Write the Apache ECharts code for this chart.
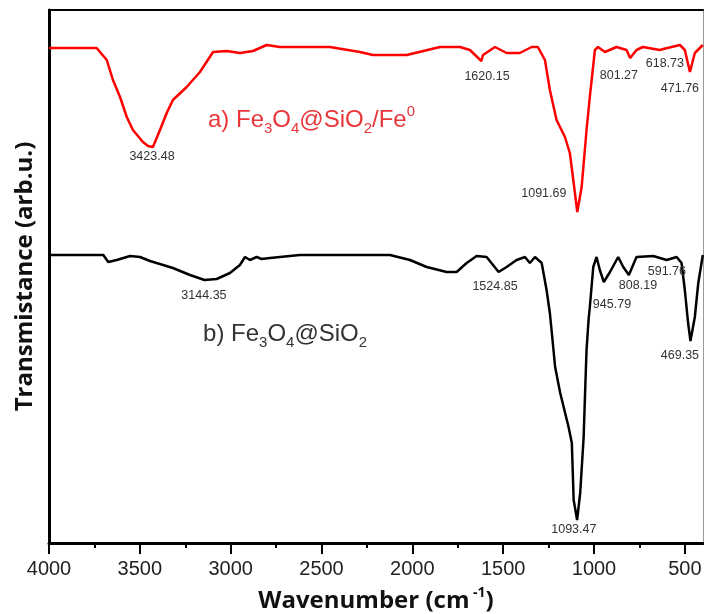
<!DOCTYPE html>
<html>
<head>
<meta charset="utf-8">
<title>FTIR spectra</title>
<script src="https://cdn.jsdelivr.net/npm/echarts@6/dist/echarts.min.js"></script>
<style>
    html, body { margin: 0; padding: 0; background: #fff; }
    #chart { width: 704px; height: 614px; }
</style>
</head>
<body>
<div id="chart"></div>
<script>
// a) Fe3O4@SiO2/Fe0 - wavenumber (cm-1) and transmittance (arb.u.)
var WAVE_A = [4000, 3738, 3682, 3648, 3609, 3572, 3538, 3483, 3455, 3428, 3389, 3352, 3318, 3242, 3169, 3097,
    3022, 2949, 2877, 2802, 2729, 2454, 2288, 2217, 2031, 1848, 1738, 1683, 1620, 1611, 1545, 1481, 1408, 1343,
    1309, 1270, 1243, 1206, 1160, 1133, 1116, 1092, 1068, 1041, 1023, 995, 978, 940, 876, 821, 801, 766, 731,
    637, 619, 527, 500, 472, 445, 401];
var TRANS_A = [495, 495, 483, 463, 446, 426, 413, 401, 397, 396, 413, 430, 443, 456, 471, 491,
    492, 490, 492, 498, 496, 496, 491, 488, 488, 496, 496, 493, 482, 488, 496, 490, 490, 496,
    496, 483, 453, 423, 406, 390, 366, 331, 356, 413, 446, 493, 496, 491, 496, 493, 485, 493, 496,
    493, 494, 498, 493, 471, 490, 498];

// b) Fe3O4@SiO2
var WAVE_B = [4000, 3701, 3674, 3627, 3554, 3499, 3444, 3318, 3224, 3144, 3077, 3004, 2949, 2921, 2894, 2857,
    2829, 2784, 2729, 2619, 2123, 2013, 1921, 1811, 1756, 1701, 1646, 1591, 1525, 1481, 1426, 1380, 1353, 1325,
    1288, 1261, 1243, 1232, 1214, 1186, 1140, 1122, 1112, 1093, 1076, 1057, 1048, 1041, 1030, 1023, 1004, 986,
    968, 946, 912, 867, 839, 808, 766, 674, 600, 545, 518, 500, 482, 469, 445, 426, 401];
var TRANS_B = [288, 288, 281, 283, 287, 286, 282, 275, 268, 263, 264, 270, 278, 286, 283, 286,
    284, 285, 286, 288, 288, 283, 276, 271, 271, 280, 287, 286, 271, 276, 283, 286, 280, 286,
    280, 253, 230, 210, 176, 150, 116, 100, 43, 23, 50, 106, 156, 193, 223, 236, 276, 286,
    273, 261, 271, 286, 276, 268, 286, 287, 283, 286, 280, 253, 220, 202, 226, 260, 288];

// peak labels: text, wavenumber, level where the label sits
var PEAKS_A = [['3423.48', 3433, 386], ['1620.15', 1589, 466], ['1091.69', 1276, 349],
    ['801.27', 863, 467], ['618.73', 610, 479], ['471.76', 527, 454]];
var PEAKS_B = [['3144.35', 3147, 247], ['1524.85', 1545, 256], ['945.79', 901, 238],
    ['808.19', 758, 257], ['591.76', 599, 271], ['469.35', 527, 187], ['1093.47', 1111, 13]];

// sample names: rich text, wavenumber, level
var NAME_A = ['a) Fe{sub|3}O{sub|4}@SiO{sub|2}/Fe{sup|0}', 3125, 423];
var NAME_B = ['b) Fe{sub|3}O{sub|4}@SiO{sub|2}', 3152, 209];

var MAJOR_TICKS = [500, 1000, 1500, 2000, 2500, 3000, 3500, 4000];

(function () {

    var CHART = echarts.init(document.getElementById('chart'));

    //
    function pairs(xs, ys) {
        var out = [];
        for (var i = 0; i < xs.length; i++) {
            out.push([xs[i], ys[i]]);
        }
        return out;
    }

    //
    function marks(peaks, sample, color) {
        var out = [];
        for (var i = 0; i < peaks.length; i++) {
            out.push({
                name: peaks[i][0],
                coord: [peaks[i][1], peaks[i][2]],
                label: {
                    show: true, position: 'inside', formatter: '{b}',
                    color: '#333', fontSize: 12.5, fontFamily: 'Liberation Sans'
                }
            });
        }
        out.push({
            name: 'sample',
            coord: [sample[1], sample[2]],
            label: {
                show: true, position: 'right', distance: 0,
                formatter: sample[0],
                color: color, fontSize: 24, lineHeight: 32, fontFamily: 'Liberation Sans',
                rich: {
                    sub: { fontSize: 15, lineHeight: 15, verticalAlign: 'bottom', color: color, fontFamily: 'Liberation Sans' },
                    sup: { fontSize: 15, lineHeight: 15, verticalAlign: 'top', color: color, fontFamily: 'Liberation Sans' }
                }
            }
        });
        return out;
    }

    var option = {
        animation: false,
        backgroundColor: '#fff',
        grid: { left: 49, right: 1, top: 10, bottom: 71, outerBoundsMode: 'none', containLabel: false },
        xAxis: [{
            type: 'value', min: 400, max: 4000, inverse: true, splitNumber: 7,
            name: 'Wavenumber (cm{sup| -1})', nameLocation: 'middle', nameGap: 43,
            nameTextStyle: {
                fontFamily: 'Open Sans', fontWeight: 'bold', fontSize: 24, color: '#111', lineHeight: 30,
                rich: { sup: { fontFamily: 'Open Sans', fontWeight: 'bold', fontSize: 14, lineHeight: 14, verticalAlign: 'top', color: '#111' } }
            },
            axisLine: { onZero: false, lineStyle: { color: '#000', width: 3 } },
            axisTick: { customValues: MAJOR_TICKS, length: 11, lineStyle: { color: '#000', width: 2 } },
            minorTick: { show: true, splitNumber: 2, length: 5, lineStyle: { color: '#000', width: 2 } },
            axisLabel: {
                customValues: MAJOR_TICKS, fontSize: 20, color: '#222', fontFamily: 'Liberation Sans', margin: 16,
                formatter: function (v) { return String(v); }
            },
            splitLine: { show: false }
        }, {
            type: 'value', min: 400, max: 4000, inverse: true, position: 'top',
            axisLine: { onZero: false, lineStyle: { color: '#000', width: 2 } },
            axisTick: { show: false }, axisLabel: { show: false }, splitLine: { show: false }
        }],
        yAxis: [{
            type: 'value', min: 0, max: 533,
            name: 'Transmistance (arb.u.)', nameLocation: 'middle', nameGap: 12,
            nameTextStyle: { fontFamily: 'Open Sans', fontWeight: 'bold', fontSize: 24, color: '#111' },
            axisLine: { show: true, onZero: false, lineStyle: { color: '#000', width: 3 } },
            axisTick: { show: false }, axisLabel: { show: false }, splitLine: { show: false }
        }, {
            type: 'value', min: 0, max: 533, position: 'right',
            axisLine: { show: true, onZero: false, lineStyle: { color: '#999', width: 1 } },
            axisTick: { show: false }, axisLabel: { show: false }, splitLine: { show: false }
        }],
        series: [{
            type: 'line', name: 'a', data: pairs(WAVE_A, TRANS_A), symbol: 'none',
            lineStyle: { color: '#ff0000', width: 2.5 }, itemStyle: { color: '#ff0000' },
            markPoint: { symbolSize: 0, silent: true, data: marks(PEAKS_A, NAME_A, '#e8363a') }
        }, {
            type: 'line', name: 'b', data: pairs(WAVE_B, TRANS_B), symbol: 'none',
            lineStyle: { color: '#000', width: 2.5 }, itemStyle: { color: '#000' },
            markPoint: { symbolSize: 0, silent: true, data: marks(PEAKS_B, NAME_B, '#333') }
        }]
    };

    CHART.setOption(option);

}());
</script>
</body>
</html>
